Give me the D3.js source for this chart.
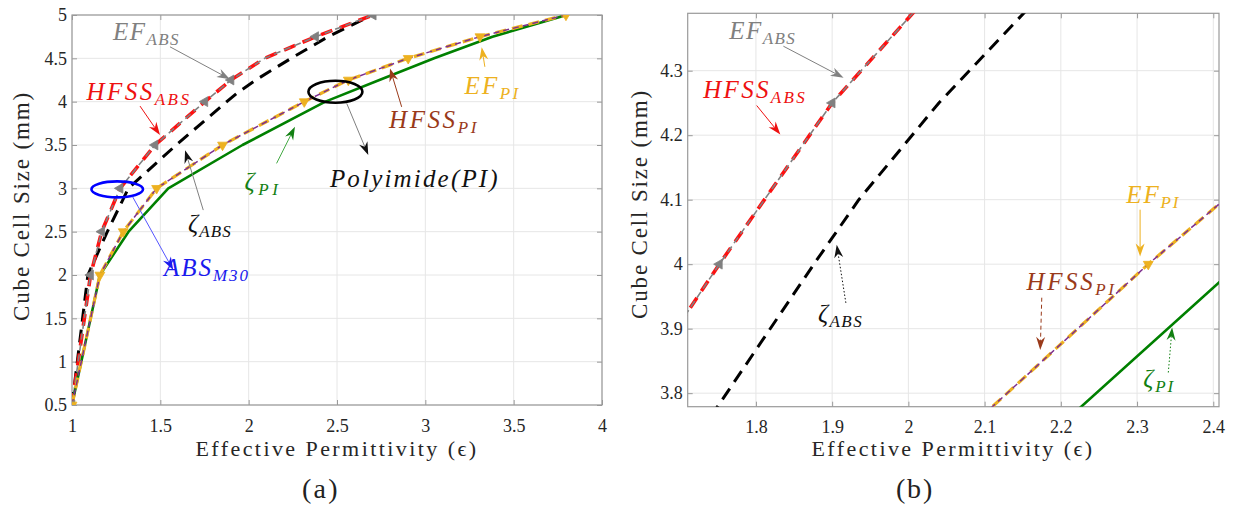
<!DOCTYPE html>
<html><head><meta charset="utf-8">
<script src="https://cdn.jsdelivr.net/npm/d3@7"></script>
<style>
body{margin:0;background:#fff}
svg{display:block}
svg text{font-family:'Liberation Serif','Times New Roman',serif;}
svg text.it{font-style:italic;}
</style>
</head><body>
<svg id="c" width="1236" height="519"></svg>
<script>
// ---------- data ----------
const sizesABS      = [0.5, 2, 2.5, 3, 3.5, 4, 4.25, 4.5, 4.75, 5];
const epsEF_ABS     = [1.0, 1.105, 1.168, 1.272, 1.47, 1.752, 1.9, 2.09, 2.379, 2.705];
const epsHFSS_ABS   = [1.0, 1.105, 1.168, 1.272, 1.47, 1.752, 1.9, 2.09, 2.379, 2.705];
const markerSizesABS = [0.5, 2, 2.5, 3, 3.5, 4, 4.25, 4.75, 5];

const sizesZetaABS  = [0.5, 2, 2.5, 3, 3.5, 4, 4.1, 4.25, 4.5, 4.75, 5];
const epsZetaABS    = [1.0, 1.09, 1.2, 1.319, 1.59, 1.876, 1.935, 2.04, 2.24, 2.45, 2.70];

const sizesPI       = [0.5, 2, 2.5, 3, 3.5, 4, 4.25, 4.5, 4.75, 5];
const epsEF_PI      = [1.0, 1.158, 1.29, 1.479, 1.852, 2.3147, 2.564, 2.903, 3.309, 3.796];
const epsHFSS_PI    = [1.0, 1.158, 1.29, 1.479, 1.852, 2.3147, 2.564, 2.903, 3.309, 3.796];

const sizesZetaPI   = [0.5, 2, 2.5, 3, 3.5, 4, 4.25, 4.5, 4.75, 5];
const epsZetaPI     = [1.0, 1.158, 1.32, 1.545, 1.965, 2.434, 2.74, 3.05, 3.38, 3.8];

const xTicksA = [1, 1.5, 2, 2.5, 3, 3.5, 4];
const xTickLabelsA = ['1', '1.5', '2', '2.5', '3', '3.5', '4'];
const yTicksA = [0.5, 1, 1.5, 2, 2.5, 3, 3.5, 4, 4.5, 5];
const yTickLabelsA = ['0.5', '1', '1.5', '2', '2.5', '3', '3.5', '4', '4.5', '5'];
const xTicksB = [1.8, 1.9, 2, 2.1, 2.2, 2.3, 2.4];
const xTickLabelsB = ['1.8', '1.9', '2', '2.1', '2.2', '2.3', '2.4'];
const yTicksB = [3.8, 3.9, 4, 4.1, 4.2, 4.3];
const yTickLabelsB = ['3.8', '3.9', '4', '4.1', '4.2', '4.3'];

const xTitle = 'Effective Permittivity (\u03F5)';
const yTitle = 'Cube Cell Size (mm)';

// annotations (data coordinates)
const labelsA = [
  {t:'EF', s:'ABS', x:1.4216, y:4.71, c:'#808080', w:67},
  {t:'HFSS', s:'ABS', x:1.379, y:4.018, c:'#ee1111', w:105},
  {t:'\u03B6', s:'ABS', x:1.781, y:2.495, c:'#111', w:44},
  {t:'ABS', s:'M30', x:1.764, y:1.988, c:'#1a1aee', w:86},
  {t:'\u03B6', s:'PI', x:2.081, y:2.98, c:'#128012', w:37},
  {t:'Polyimide(PI)', s:'', x:2.941, y:3.014, c:'#111', w:170},
  {t:'HFSS', s:'PI', x:3.049, y:3.695, c:'#9a3a1a', w:90},
  {t:'EF', s:'PI', x:3.38, y:4.087, c:'#EDB120', w:56}
];
const arrowsA = [
  {x1:1.5546, y1:4.633, x2:1.894, y2:4.26, lc:'#808080', hc:'#808080'},
  {x1:1.385, y1:3.949, x2:1.498, y2:3.614, lc:'#ee1111', hc:'#ee1111'},
  {x1:1.743, y1:2.749, x2:1.64, y2:3.44, lc:'#808080', hc:'#111'},
  {x1:1.343, y1:2.903, x2:1.573, y2:2.057, lc:'#5555ff', hc:'#1a1aee'},
  {x1:2.158, y1:3.288, x2:2.262, y2:3.71, lc:'#44aa44', hc:'#128012'},
  {x1:2.555, y1:3.98, x2:2.677, y2:3.384, lc:'#808080', hc:'#111'},
  {x1:2.866, y1:3.94, x2:2.80, y2:4.384, lc:'#9a3a1a', hc:'#9a3a1a'},
  {x1:3.337, y1:4.402, x2:3.319, y2:4.629, lc:'#EDB120', hc:'#EDB120'}
];
const ellipsesA = [
  {cx:1.256, cy:2.988, rx:0.146, ry:0.092, c:'#0000ff'},
  {cx:2.491, cy:4.114, rx:0.1528, ry:0.127, c:'#000'}
];
const labelsB = [
  {t:'EF', s:'ABS', x:1.809, y:4.3496, c:'#808080', w:67},
  {t:'HFSS', s:'ABS', x:1.799, y:4.258, c:'#ee1111', w:104},
  {t:'\u03B6', s:'ABS', x:1.911, y:3.911, c:'#111', w:45},
  {t:'EF', s:'PI', x:2.3213, y:4.0953, c:'#EDB120', w:54},
  {t:'HFSS', s:'PI', x:2.214, y:3.96, c:'#9a3a1a', w:90},
  {t:'\u03B6', s:'PI', x:2.329, y:3.81, c:'#128012', w:32}
];
const arrowsB = [
  {x1:1.836, y1:4.338, x2:1.915, y2:4.289, lc:'#808080', hc:'#808080'},
  {x1:1.801, y1:4.246, x2:1.832, y2:4.201, lc:'#ee1111', hc:'#ee1111'},
  {x1:1.918, y1:3.94, x2:1.906, y2:4.03, lc:'#111', hc:'#111', dash:'1.5,2'},
  {x1:2.304, y1:4.0845, x2:2.304, y2:4.012, lc:'#EDB120', hc:'#EDB120'},
  {x1:2.175, y1:3.948, x2:2.173, y2:3.867, lc:'#9a3a1a', hc:'#9a3a1a', dash:'4,3'},
  {x1:2.341, y1:3.832, x2:2.346, y2:3.902, lc:'#128012', hc:'#128012', dash:'1.5,2'}
];

// ---------- drawing ----------
const svg = d3.select('#c');
svg.append('rect').attr('width', 1236).attr('height', 519).attr('fill', '#fff');

const zip = (xs, ys) => xs.map((v, i) => [v, ys[i]]);
const series = [
  {d: zip(epsZetaABS, sizesZetaABS), c:'#000', w:3, dash:'13,8'},
  {d: zip(epsHFSS_ABS, sizesABS), c:'#ff1010', w:3.6, dash:'12,8'},
  {d: zip(epsEF_ABS, sizesABS), c:'#808080', w:1.6, dash:'7,4'},
  {d: zip(epsZetaPI, sizesZetaPI), c:'#008000', w:2.6, dash:null},
  {d: zip(epsEF_PI, sizesPI), c:'#EDB120', w:3.2, dash:'11,6'},
  {d: zip(epsHFSS_PI, sizesPI), c:'#7E2F8E', w:1.5, dash:'6,4'}
];
const markers = [
  {d: zip(epsEF_ABS, sizesABS).filter(p => markerSizesABS.includes(p[1])), c:'#808080', rot:-90},
  {d: zip(epsEF_PI, sizesPI), c:'#EDB120', rot:180}
];

const panels = [
  {id:'a', xr:[72, 602], yr:[405, 15], xd:[1, 4], yd:[0.5, 5],
   xt:xTicksA, xl:xTickLabelsA, yt:yTicksA, yl:yTickLabelsA,
   ytx:29, yty:206, xtx:337, cap:'(a)', capx:321,
   labels:labelsA, arrows:arrowsA, ellipses:ellipsesA},
  {id:'b', xr:[687.7, 1219], yr:[406.7, 13.3], xd:[1.7105, 2.4075], yd:[3.779, 4.389],
   xt:xTicksB, xl:xTickLabelsB, yt:yTicksB, yl:yTickLabelsB,
   ytx:647, yty:204, xtx:953, cap:'(b)', capx:915,
   labels:labelsB, arrows:arrowsB, ellipses:[]}
];

function fitWidth(sel, w) {
  const node = sel.node();
  const cur = node.getComputedTextLength();
  const n = node.textContent.length;
  if (n > 1) sel.attr('letter-spacing', ((w - cur) / n).toFixed(2));
}

panels.forEach(p => {
  const x = d3.scaleLinear().domain(p.xd).range(p.xr);
  const y = d3.scaleLinear().domain(p.yd).range(p.yr);
  const g = svg.append('g');
  const W = p.xr[1] - p.xr[0], H = p.yr[0] - p.yr[1];

  g.append('clipPath').attr('id', 'clip' + p.id).append('rect')
    .attr('x', p.xr[0]).attr('y', p.yr[1]).attr('width', W).attr('height', H);

  g.append('g').selectAll('line').data(p.xt).join('line')
    .attr('x1', d => x(d)).attr('x2', d => x(d)).attr('y1', p.yr[1]).attr('y2', p.yr[0])
    .attr('stroke', '#e6e6e6').attr('stroke-width', 1);
  g.append('g').selectAll('line').data(p.yt).join('line')
    .attr('y1', d => y(d)).attr('y2', d => y(d)).attr('x1', p.xr[0]).attr('x2', p.xr[1])
    .attr('stroke', '#e6e6e6').attr('stroke-width', 1);

  const styleAxis = sel => {
    sel.attr('font-size', 18);
    sel.select('.domain').remove();
    sel.selectAll('.tick line').attr('stroke', '#9a9a9a');
    sel.selectAll('.tick text').attr('fill', '#262626');
  };
  g.append('g').attr('transform', `translate(0,${p.yr[0]})`)
    .call(d3.axisBottom(x).tickValues(p.xt).tickFormat((d, i) => p.xl[i])
      .tickSizeInner(-5).tickSizeOuter(0).tickPadding(14)).call(styleAxis);
  g.append('g').attr('transform', `translate(0,${p.yr[1]})`)
    .call(d3.axisTop(x).tickValues(p.xt).tickFormat('')
      .tickSizeInner(-5).tickSizeOuter(0)).call(styleAxis);
  g.append('g').attr('transform', `translate(${p.xr[0]},0)`)
    .call(d3.axisLeft(y).tickValues(p.yt).tickFormat((d, i) => p.yl[i])
      .tickSizeInner(-5).tickSizeOuter(0).tickPadding(5)).call(styleAxis);
  g.append('g').attr('transform', `translate(${p.xr[1]},0)`)
    .call(d3.axisRight(y).tickValues(p.yt).tickFormat('')
      .tickSizeInner(-5).tickSizeOuter(0)).call(styleAxis);

  g.append('rect').attr('x', p.xr[0]).attr('y', p.yr[1]).attr('width', W).attr('height', H)
    .attr('fill', 'none').attr('stroke', '#9a9a9a').attr('stroke-width', 1.2);

  const line = d3.line().x(d => x(d[0])).y(d => y(d[1]));
  const sg = g.append('g').attr('clip-path', `url(#clip${p.id})`);
  series.forEach(s => {
    sg.append('path').attr('d', line(s.d)).attr('fill', 'none')
      .attr('stroke', s.c).attr('stroke-width', s.w)
      .attr('stroke-dasharray', s.dash).attr('stroke-linejoin', 'round');
  });
  markers.forEach(m => {
    sg.append('g').selectAll('path').data(m.d).join('path')
      .attr('d', d3.symbol(d3.symbolTriangle, 42)())
      .attr('transform', d => `translate(${x(d[0])},${y(d[1])}) rotate(${m.rot})`)
      .attr('fill', m.c).attr('stroke', m.c).attr('stroke-width', 0.8);
  });

  p.ellipses.forEach(e => {
    g.append('ellipse').attr('cx', x(e.cx)).attr('cy', y(e.cy))
      .attr('rx', x(e.cx + e.rx) - x(e.cx)).attr('ry', y(e.cy) - y(e.cy + e.ry))
      .attr('fill', 'none').attr('stroke', e.c).attr('stroke-width', 2.6);
  });

  p.arrows.forEach(a => {
    const x1 = x(a.x1), y1 = y(a.y1), x2 = x(a.x2), y2 = y(a.y2);
    const dx = x2 - x1, dy = y2 - y1, len = Math.hypot(dx, dy);
    const ux = dx / len, uy = dy / len, nx = -uy, ny = ux;
    const L = 13, Wd = 4.5, notch = 4;
    g.append('line').attr('x1', x1).attr('y1', y1)
      .attr('x2', x2 - (L - notch) * ux).attr('y2', y2 - (L - notch) * uy)
      .attr('stroke', a.lc).attr('stroke-width', 1).attr('stroke-dasharray', a.dash || null);
    const pts = [[x2, y2], [x2 - L * ux + Wd * nx, y2 - L * uy + Wd * ny],
      [x2 - (L - notch) * ux, y2 - (L - notch) * uy], [x2 - L * ux - Wd * nx, y2 - L * uy - Wd * ny]];
    g.append('path').attr('d', 'M' + pts.map(q => q.join(',')).join('L') + 'Z').attr('fill', a.hc);
  });

  p.labels.forEach(l => {
    const t = g.append('text').attr('class', 'it').attr('x', x(l.x)).attr('y', y(l.y))
      .attr('text-anchor', 'middle').attr('fill', l.c).attr('font-size', 25);
    t.append('tspan').text(l.t);
    if (l.s) t.append('tspan').attr('dy', 5).attr('font-size', 17).text(l.s);
    fitWidth(t, l.w);
  });

  const xt = g.append('text').attr('x', p.xtx).attr('y', 456).attr('text-anchor', 'middle')
    .attr('fill', '#262626').attr('font-size', 22).text(xTitle);
  fitWidth(xt, 283);
  const yt = g.append('text').attr('transform', `translate(${p.ytx},${p.yty}) rotate(-90)`)
    .attr('text-anchor', 'middle').attr('fill', '#262626')
    .attr('font-size', 23).text(yTitle);
  fitWidth(yt, 230);
  const cp = svg.append('text').attr('x', p.capx).attr('y', 498).attr('text-anchor', 'middle')
    .attr('fill', '#222').attr('font-size', 28).text(p.cap);
  fitWidth(cp, 38);
});
</script>
</body></html>
